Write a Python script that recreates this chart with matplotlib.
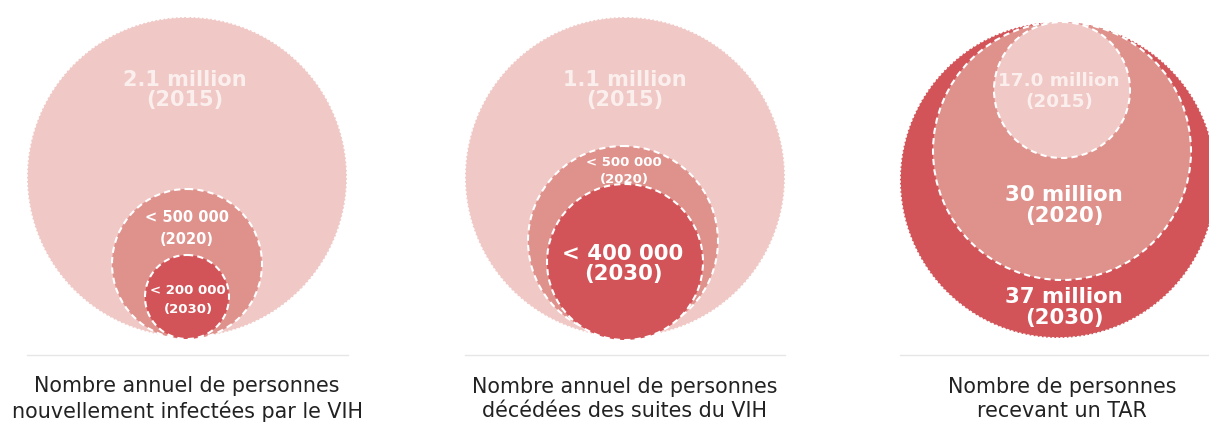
import matplotlib.pyplot as plt
from matplotlib.patches import Circle

# labels for each panel (outer circle first)
values_infected = ["2.1 million", "< 500 000", "< 200 000"]
values_deaths = ["1.1 million", "< 500 000", "< 400 000"]
values_art = ["37 million", "30 million", "17.0 million"]
years_infected = ["2015", "2020", "2030"]
years_deaths = ["2015", "2020", "2030"]
years_art = ["2030", "2020", "2015"]
captions = ["Nombre annuel de personnes\nnouvellement infectées par le VIH",
            "Nombre annuel de personnes\ndécédées des suites du VIH",
            "Nombre de personnes\nrecevant un TAR"]

light = "#F0C8C5"
mid = "#DF918C"
dark = "#D25458"

# layout (pixel coords): centre x, centre y, radius, colour, text x, value y, year y, font size
layout = [
    [(187, 177, 160, light, 185, 80, 100, 15), (187, 264, 75, mid, 187, 218, 240, 10.5),
     (187, 297, 42, dark, 188, 290, 310, 9.5)],
    [(625, 177, 160, light, 625, 80, 100, 15), (623, 241, 95, mid, 624, 162, 179, 9.5),
     (625, 262, 78, dark, 623, 254, 274, 15.3)],
    [(1058, 180, 158, dark, 1064, 297, 318, 15.3), (1062, 151, 129, mid, 1064, 195, 216, 15.3),
     (1062, 90, 68, light, 1059, 81, 102, 13.2)],
]
values = [values_infected, values_deaths, values_art]
years = [years_infected, years_deaths, years_art]
caption_x = [187, 625, 1062]
line_span = [(27, 348), (465, 785), (900, 1209)]

fig = plt.figure(figsize=(12.09, 4.32), dpi=100)
ax = fig.add_axes([0, 0, 1, 1])
ax.set_xlim(0, 1209)
ax.set_ylim(432, 0)
ax.set_aspect("equal")
ax.axis("off")

for p in range(3):
    for k, (cx, cy, r, col, tx, vy, yy, fs) in enumerate(layout[p]):
        if k == 0:
            ax.add_patch(Circle((cx, cy), r, facecolor=col, edgecolor="white",
                                lw=1.2, ls=(0, (1.5, 1))))
        else:
            ax.add_patch(Circle((cx, cy), r, facecolor=col, edgecolor="white",
                                lw=1.5, ls=(0, (3, 2))))
        tcol = "#FBEFEE" if col == light else "white"
        ax.text(tx, vy, values[p][k], ha="center", va="center",
                color=tcol, fontsize=fs, fontweight="bold")
        ax.text(tx, yy, "(" + years[p][k] + ")", ha="center", va="center",
                color=tcol, fontsize=fs, fontweight="bold")
    ax.plot(line_span[p], [355, 355], color="#E6E6E6", lw=1)
    ax.text(caption_x[p], 399, captions[p], ha="center", va="center",
            fontsize=14.9, color="#222222", linespacing=1.3)

fig.savefig("out.png", dpi=100)
